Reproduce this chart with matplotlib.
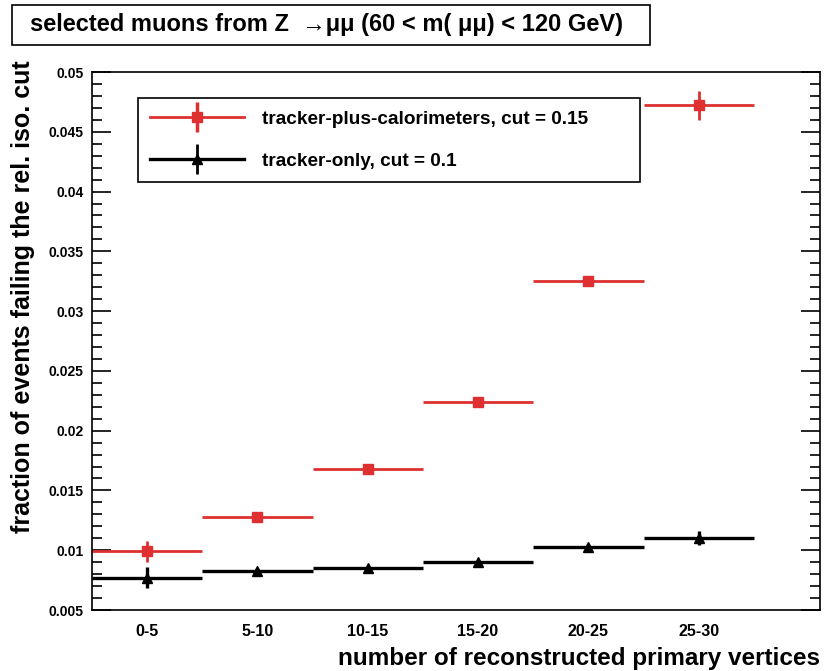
import matplotlib
matplotlib.use('Agg')
import matplotlib.pyplot as plt
import matplotlib.patches as mpatches
from matplotlib.lines import Line2D
from matplotlib.legend_handler import HandlerTuple
import numpy as np

plt.rcParams['font.family'] = ['Liberation Sans', 'DejaVu Sans']
plt.rcParams['font.weight'] = 'bold'

# data
bin_labels = ['0-5', '5-10', '10-15', '15-20', '20-25', '25-30']
bin_edges = [0, 5, 10, 15, 20, 25, 30]
frac_calo = [0.0099, 0.0128, 0.0168, 0.0224, 0.0325, 0.0472]
err_calo = [0.0009, 0.0002, 0.0002, 0.0002, 0.0003, 0.0012]
frac_trk = [0.0077, 0.0083, 0.0085, 0.0090, 0.0103, 0.0110]
err_trk = [0.0009, 0.0002, 0.0002, 0.0002, 0.0002, 0.0006]

red = '#de3030'

edges = np.array(bin_edges)
centers = 0.5 * (edges[:-1] + edges[1:])
half = 0.5 * np.diff(edges)

fig = plt.figure(figsize=(8.26, 6.71), dpi=100)
ax = fig.add_axes([92/826, 1-610/671, 728/826, 538/671])

ax.errorbar(centers, frac_calo, xerr=half, yerr=err_calo, fmt='s', color=red,
            ms=7, elinewidth=2, capsize=0)
ax.errorbar(centers, frac_trk, xerr=half, yerr=err_trk, fmt='^', color='black',
            ms=7, elinewidth=2.4, capsize=0)

ax.set_xlim(0, 33)
ax.set_ylim(0.005, 0.05)
ax.set_xticks(centers)
ax.set_xticklabels(bin_labels, fontsize=11.5, fontweight='bold')
ax.tick_params(axis='x', length=0, pad=10)
ax.set_yticks(np.arange(0.005, 0.0501, 0.005))
ax.set_yticklabels(['0.005', '0.01', '0.015', '0.02', '0.025', '0.03',
                    '0.035', '0.04', '0.045', '0.05'], fontsize=10, fontweight='bold')
ax.set_yticks(np.arange(0.005, 0.0501, 0.001), minor=True)
ax.tick_params(axis='y', which='major', direction='in', length=14, width=1.2,
               left=True, right=True, pad=6)
ax.tick_params(axis='y', which='minor', direction='in', length=7, width=1.2,
               left=True, right=True)
for s in ax.spines.values():
    s.set_linewidth(1.2)

ax.set_xlabel('number of reconstructed primary vertices', fontsize=17.5,
              fontweight='bold', loc='right', labelpad=6)
ax.set_ylabel('fraction of events failing the rel. iso. cut', fontsize=18,
              fontweight='bold', loc='top')
ax.yaxis.set_label_coords(-0.078, 1.022)

# legend proxies: horizontal bar + marker, plus vertical error bar
hline_c = Line2D([], [], color=red, lw=2, marker='s', ms=7)
vbar_c = Line2D([], [], color=red, lw=0, marker='|', ms=22, mew=2.5)
hline_t = Line2D([], [], color='black', lw=2.4, marker='^', ms=7)
vbar_t = Line2D([], [], color='black', lw=0, marker='|', ms=22, mew=2.0)
leg = ax.legend(handles=[(hline_c, vbar_c), (vbar_t, hline_t)],
                labels=['tracker-plus-calorimeters, cut = 0.15', 'tracker-only, cut = 0.1'],
                handler_map={tuple: HandlerTuple(ndivide=1)},
                loc='upper left', bbox_to_anchor=(0.0632, 0.9517, 0.69, 0.0), mode='expand',
                fancybox=False, edgecolor='black', framealpha=1,
                fontsize=13.7, handlelength=4.9, handletextpad=0.95,
                labelspacing=1.3, borderpad=0.65, borderaxespad=0)
leg.get_frame().set_linewidth(1.2)
for t in leg.get_texts():
    t.set_fontweight('bold')

# title box
fig.patches.append(mpatches.Rectangle((12/826, 1-45/671), 638/826, 40/671,
                                      transform=fig.transFigure, fill=False,
                                      edgecolor='black', linewidth=1.2))
fig.text(326/826, 1-25/671, 'selected muons from Z  \u2192\u03bc\u03bc (60 < m( \u03bc\u03bc) < 120 GeV)',
         ha='center', va='center', fontsize=17, fontweight='bold')

fig.savefig('out.png', dpi=100)
